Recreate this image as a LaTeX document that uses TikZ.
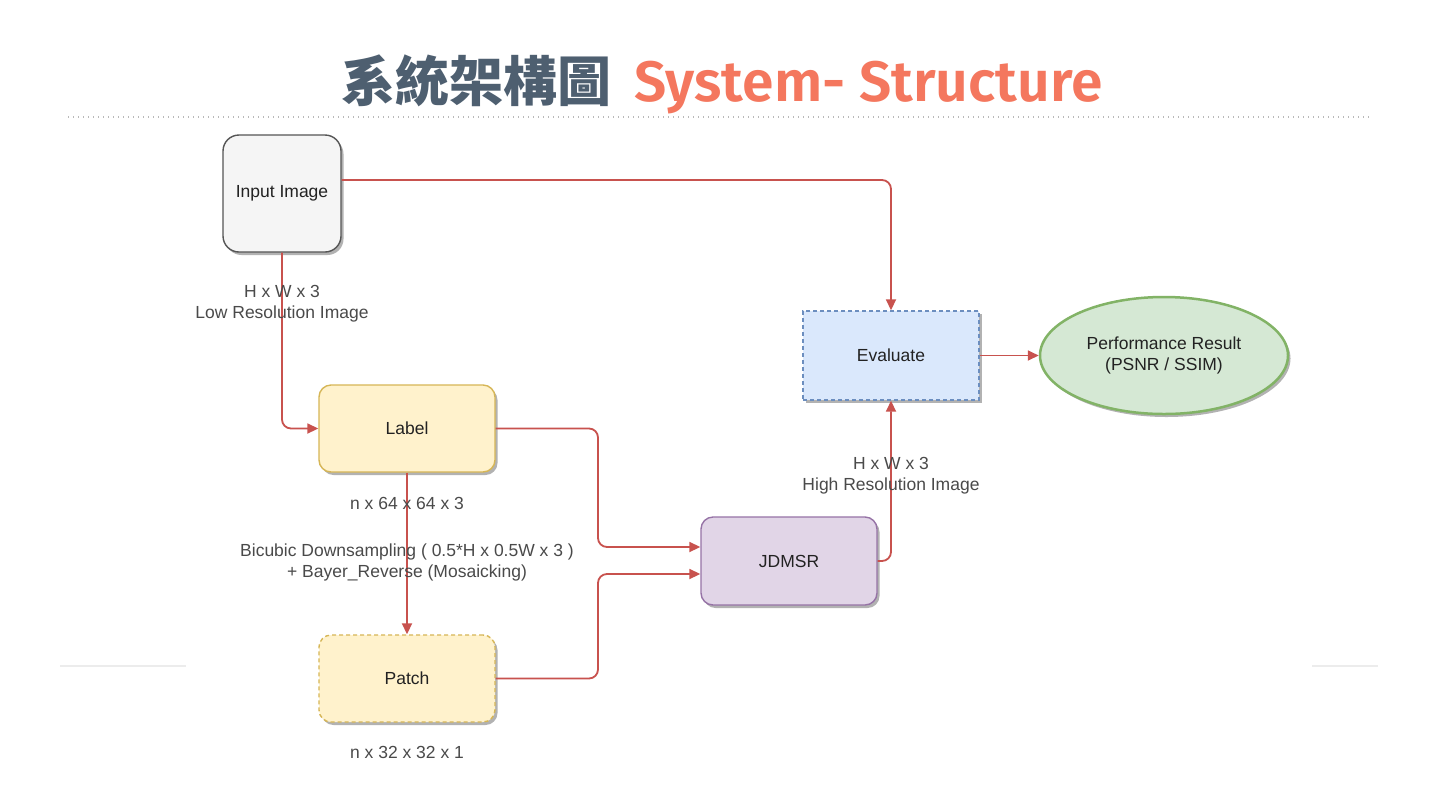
\documentclass[tikz,border=0pt]{standalone}
\usepackage{fontspec}
\setmainfont{Liberation Sans}
\newfontfamily\cjk{Noto Sans CJK TC}[BoldFont={Noto Sans CJK TC Black}]
\newfontfamily\titlefont{Fira Sans SemiBold}
\usetikzlibrary{arrows.meta,shapes.geometric,shadows}
\definecolor{linkc}{HTML}{C8524E}
\definecolor{titledark}{HTML}{4E5F70}
\definecolor{titlecoral}{HTML}{F4775E}
\definecolor{grayfill}{HTML}{F5F5F5}
\definecolor{graydraw}{HTML}{555555}
\definecolor{yelfill}{HTML}{FFF2CC}
\definecolor{yeldraw}{HTML}{D6B656}
\definecolor{purfill}{HTML}{E1D5E7}
\definecolor{purdraw}{HTML}{9673A6}
\definecolor{bluefill}{HTML}{DAE8FC}
\definecolor{bluedraw}{HTML}{6C8EBF}
\definecolor{grnfill}{HTML}{D5E8D4}
\definecolor{grndraw}{HTML}{82B366}
\definecolor{nodetext}{HTML}{222222}
\definecolor{labtext}{HTML}{4A4A4A}
\begin{document}
\begin{tikzpicture}[x=1pt,y=-1pt,
  every node/.style={font=\fontsize{17.5}{21}\selectfont},
  box/.style={draw, line width=1.4pt, text=nodetext, align=center,
    drop shadow={shadow xshift=2.5pt, shadow yshift=-3pt, opacity=0.3, fill=black}},
  conn/.style={draw=linkc, line width=1.8pt, rounded corners=9pt,
    -{Triangle[length=11pt,width=10pt]}},
  lbl/.style={text=labtext, align=center, inner sep=0pt}]
\useasboundingbox (0,0) rectangle (1437,804);
\fill[white] (0,0) rectangle (1437,804);

% title
\node[anchor=base east, inner sep=0pt, text=titledark, font=\fontsize{54}{60}\selectfont] (tzh) at (612,101) {\cjk\bfseries 系統架構圖};
\node[anchor=base west, inner sep=0pt, text=titlecoral, font=\fontsize{57}{62}\selectfont] (ten) at (634,101) {\titlefont System- Structure};
\draw[gray!55, line width=1.2pt, dash pattern=on 1.2pt off 3.8pt] (68,117) -- (1372,117);
\draw[gray!15, line width=1.5pt] (60,666) -- (186,666);
\draw[gray!15, line width=1.5pt] (1312,666) -- (1378,666);

% nodes
\node[box, fill=grayfill, draw=graydraw, rounded corners=16pt, minimum width=118pt, minimum height=117pt] (inp) at (282,193.5) {Input Image};
\node[box, fill=yelfill, draw=yeldraw, rounded corners=12pt, minimum width=176pt, minimum height=87pt] (lab) at (407,428.5) {Label};
\node[box, fill=yelfill, draw=yeldraw, dash pattern=on 4pt off 3pt, rounded corners=12pt, minimum width=176pt, minimum height=87pt] (pat) at (407,678.5) {Patch};
\node[box, fill=purfill, draw=purdraw, rounded corners=12pt, minimum width=176pt, minimum height=88pt] (jd) at (789,561) {JDMSR};
\node[box, fill=bluefill, draw=bluedraw, dash pattern=on 4pt off 3pt, minimum width=176pt, minimum height=89pt] (ev) at (891,355.5) {Evaluate};
\node[box, ellipse, fill=grnfill, draw=grndraw, line width=2.5pt, minimum width=248pt, minimum height=117pt] (perf) at (1164,355.5) {Performance Result\\(PSNR / SSIM)};

% connectors
\coordinate (y180) at (0,180);
\coordinate (b1) at (598,547);
\coordinate (b2) at (598,574);
\draw[conn] (inp.east |- y180) -| (ev.north);
\draw[conn] (inp.south) |- (lab.west);
\draw[conn] (lab.south) -- (pat.north);
\draw[conn] (lab.east) -| (b1) -- (jd.west |- b1);
\draw[conn] (pat.east) -| (b2) -- (jd.west |- b2);
\draw[conn] (jd.east) -| (ev.south);
\draw[conn] (ev.east) -- (perf.west);

% labels
\node[lbl] (l1) at (282,304) {H x W x 3\\Low Resolution Image};
\node[lbl] (l2) at (407,503) {n x 64 x 64 x 3};
\node[lbl] (l3) at (407,562) {Bicubic Downsampling ( 0.5*H x 0.5W x 3 )\\+ Bayer\_Reverse (Mosaicking)};
\node[lbl] (l4) at (407,752) {n x 32 x 32 x 1};
\node[lbl] (l5) at (891,476) {H x W x 3\\High Resolution Image};
\end{tikzpicture}
\end{document}
